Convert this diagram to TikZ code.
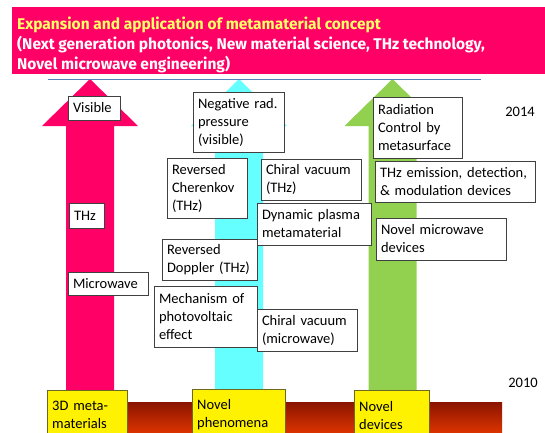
\documentclass[tikz,border=0pt]{standalone}
\usepackage{fontspec}
\setmainfont{Carlito}
\newfontfamily\headfont{Fira Sans}
\usetikzlibrary{positioning}

\definecolor{headpink}{HTML}{FF0066}
\definecolor{headyellow}{HTML}{FFFF66}
\definecolor{arrowpink}{HTML}{FF0066}
\definecolor{arrowcyan}{HTML}{66FFFF}
\definecolor{arrowgreen}{HTML}{92D050}
\definecolor{bartop}{HTML}{8A1400}
\definecolor{barbottom}{HTML}{DA3300}
\definecolor{ruleblue}{HTML}{4F81BD}

\begin{document}
\begin{tikzpicture}[x=1pt,y=-1pt,
  tag/.style={draw=black!75, fill=white, align=left, font=\fontsize{14.5}{18}\selectfont, inner xsep=5pt, inner ysep=1pt},
  era/.style={draw=olive!70!black, fill=yellow, anchor=north west, align=left, font=\fontsize{14.5}{18}\selectfont, inner xsep=5pt, inner ysep=3pt, minimum height=50pt}]
\useasboundingbox (0,0) rectangle (545,432);
\clip (0,0) rectangle (545,432);

\node[fill=headpink, anchor=north west, minimum width=540pt, minimum height=67pt] (headbox) at (12,7) {};
\node[anchor=north west, align=left, inner sep=0pt, font=\headfont\bfseries\fontsize{15.5}{20}\selectfont] (headtext) at (17,17)
  {\textcolor{headyellow}{Expansion and application of metamaterial concept}\\
   \textcolor{white}{(Next generation photonics, New material science, THz technology,}\\
   \textcolor{white}{Novel microwave engineering)}};

\foreach \cx/\col in {90/arrowpink, 239/arrowcyan, 392.5/arrowgreen}
  \fill[\col] (\cx-24,405) -- (\cx-24,126) -- (\cx-48,126) -- (\cx,79) -- (\cx+48,126) -- (\cx+24,126) -- (\cx+24,405) -- cycle;

\draw[ruleblue, thick] (48,79) -- (481,79);

\shade[top color=bartop, bottom color=barbottom] (48,402) rectangle (502,432);

\node[era, text width=70pt] (meta) at (47,390) {3D meta-\\materials};
\node[era, text width=83pt] (pheno) at (192,389) {Novel\\phenomena};
\node[era, text width=65pt] (devices) at (354,390) {Novel\\devices};

\node[tag, minimum height=24pt, text width=42pt] (visible) at (94,108) {Visible};
\node[tag, minimum height=25pt, text width=25pt] (thz) at (86.5,215.5) {THz};
\node[tag, minimum height=23pt, text width=70pt] (microwave) at (108,283.5) {Microwave};

\node[tag, minimum height=60pt, text width=81pt] (negrad) at (238.5,122) {Negative rad.\\pressure\\(visible)};
\node[tag, minimum height=60pt, text width=70pt] (cherenkov) at (207,188) {Reversed\\Cherenkov\\(THz)};
\node[tag, minimum height=41pt, text width=90pt] (chiralthz) at (311,179.5) {Chiral vacuum\\(THz)};
\node[tag, minimum height=42pt, text width=104pt] (plasma) at (314,224) {Dynamic plasma\\metamaterial};
\node[tag, minimum height=41pt, text width=85pt] (doppler) at (209.5,259.5) {Reversed\\Doppler (THz)};
\node[tag, minimum height=61pt, text width=93pt] (photovolt) at (205.5,316.5) {Mechanism of\\photovoltaic\\effect};
\node[tag, minimum height=42pt, text width=90pt] (chiralmw) at (307,330) {Chiral vacuum\\(microwave)};

\node[tag, minimum height=61pt, text width=79pt] (metasurf) at (417.5,127.5) {Radiation\\Control by\\metasurface};
\node[tag, minimum height=41pt, text width=150pt] (thzdev) at (455,181.5) {THz emission, detection,\\\& modulation devices};
\node[tag, minimum height=42pt, text width=120pt] (mwdev) at (441,239) {Novel microwave\\devices};

\node[font=\fontsize{14.5}{18}\selectfont] (y2014) at (520,112) {2014};
\node[font=\fontsize{14.5}{18}\selectfont] (y2010) at (523,383) {2010};
\end{tikzpicture}
\end{document}
